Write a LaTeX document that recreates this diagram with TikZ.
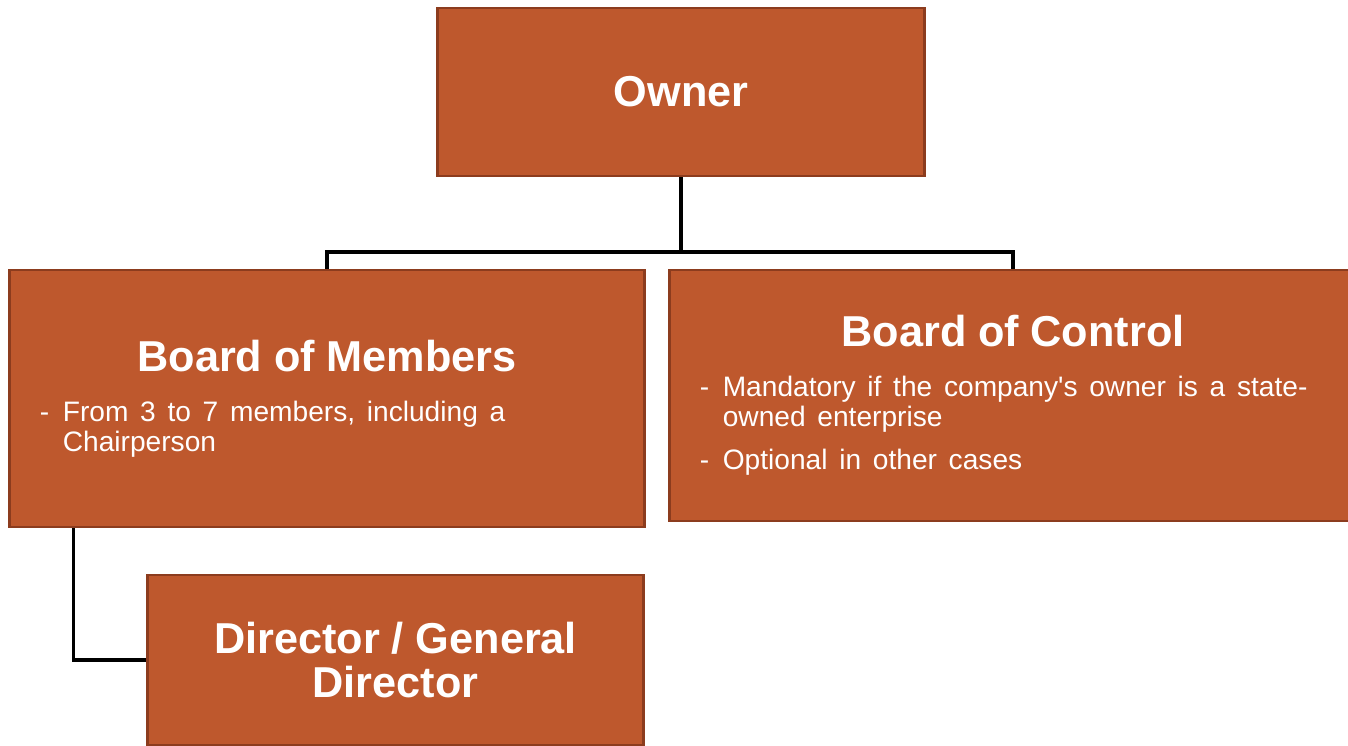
\documentclass[tikz,border=0pt]{standalone}
\usepackage{fontspec}
\setmainfont{Liberation Sans}
\newfontfamily\plainsans{Liberation Sans}
\definecolor{boxfill}{RGB}{190,88,45}
\definecolor{boxline}{RGB}{140,60,30}
\usetikzlibrary{positioning,calc}
\newcommand{\titlefont}{\fontsize{12.3}{12.6}\selectfont\bfseries}
\newcommand{\bodyfont}{\plainsans\fontsize{8.0}{8.5}\selectfont}
\newcommand{\dashitem}[1]{\par{\raggedright\noindent\hangindent=0.23cm\hangafter=1\makebox[0.23cm][l]{-}#1\par}}

\begin{document}
\begin{tikzpicture}[x=0.01cm,y=-0.01cm,
    every node/.style={draw=boxline,line width=0.8pt,fill=boxfill,text=white,rectangle},
    headbox/.style={align=center,font=\titlefont},
    listbox/.style={inner xsep=0.3cm,text width=#1},
    link/.style={draw=black,line width=0.9pt}
    ]
    \clip (0,0) rectangle (1348,746);

    % the owner
    \node[headbox,minimum width=4.86cm,minimum height=1.68cm] (owner) at (681,92) {Owner};

    % the two boards
    \node[listbox=5.74cm,minimum width=6.34cm,minimum height=2.57cm] (members) at (327,398.5) {%
        {\centering\titlefont Board of Members\par}
        \vspace{5.7pt}
        \bodyfont
        \dashitem{From 3 to 7 members, including a\newline Chairperson}};
    \node[listbox=6.26cm,minimum width=6.86cm,minimum height=2.51cm] (control) at (1013,395.5) {%
        {\centering\titlefont Board of Control\par}
        \vspace{5.7pt}
        \bodyfont
        \dashitem{Mandatory if the company's owner is a state-\newline owned enterprise}
        \vspace{3.7pt}
        \dashitem{Optional in other cases}};

    % the director
    \node[headbox,minimum width=4.95cm,minimum height=1.70cm] (director) at (395.5,660) {Director / General\\ Director};

    % the links
    \coordinate (split) at (681,252);
    \draw[link] (owner) -- (split);
    \draw[link] (members.north) |- (split) -| (control.north);
    \draw[link] ([xshift=0.65cm]members.south west) |- (director.west);
\end{tikzpicture}
\end{document}
